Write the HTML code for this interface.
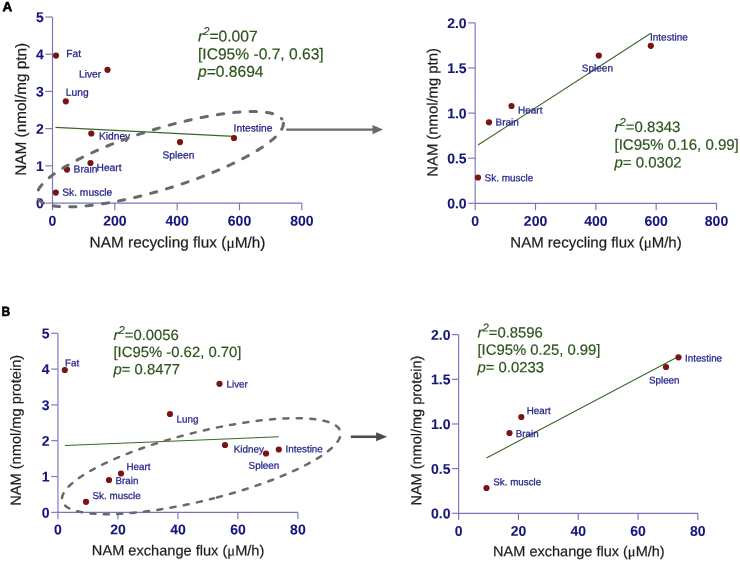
<!DOCTYPE html>
<html><head><meta charset="utf-8"><title>NAM flux correlations</title>
<style>
html,body{margin:0;padding:0;background:#fff;}
svg{display:block;will-change:transform;font-family:"Liberation Sans",sans-serif;}
.tk{font-size:14px;font-weight:bold;fill:#15157a;stroke:#15157a;stroke-width:.08px;}
.lb{fill:#1f1f85;stroke:#1f1f85;stroke-width:.25px;}
.st{fill:#2c541c;stroke:#2c541c;stroke-width:.2px;}
.tt{fill:#1c1c1c;stroke:#1c1c1c;stroke-width:.2px;}
.pl{font-size:13.5px;font-weight:bold;fill:#000;stroke:#000;stroke-width:.6px;}
.mu{font-family:"Liberation Serif",serif;}
</style></head>
<body>
<svg width="740" height="561" viewBox="0 0 740 561">
<rect width="740" height="561" fill="#fff"/>
<text transform="translate(2.5 11.3) rotate(0.03)" class="pl">A</text>
<text transform="translate(1.55 316) rotate(0.03) scale(0.89 1)" class="pl">B</text>
<path d="M52.5 17.0V203.05H301.8" fill="none" stroke="#7a76bc" stroke-width="1.15"/>
<path d="M52.5 203.05v7.2" stroke="#7a76bc" stroke-width="1.15"/>
<text transform="translate(52.5 225.6) rotate(0.03)" class="tk" text-anchor="middle">0</text>
<path d="M114.83 203.05v7.2" stroke="#7a76bc" stroke-width="1.15"/>
<text transform="translate(114.83 225.6) rotate(0.03)" class="tk" text-anchor="middle">200</text>
<path d="M177.15 203.05v7.2" stroke="#7a76bc" stroke-width="1.15"/>
<text transform="translate(177.15 225.6) rotate(0.03)" class="tk" text-anchor="middle">400</text>
<path d="M239.48 203.05v7.2" stroke="#7a76bc" stroke-width="1.15"/>
<text transform="translate(239.48 225.6) rotate(0.03)" class="tk" text-anchor="middle">600</text>
<path d="M301.8 203.05v7.2" stroke="#7a76bc" stroke-width="1.15"/>
<text transform="translate(301.8 225.6) rotate(0.03)" class="tk" text-anchor="middle">800</text>
<path d="M52.5 203.05h-7.2" stroke="#7a76bc" stroke-width="1.15"/>
<text transform="translate(43.7 208.1) rotate(0.03)" class="tk" text-anchor="end">0</text>
<path d="M52.5 165.84h-7.2" stroke="#7a76bc" stroke-width="1.15"/>
<text transform="translate(43.7 170.89) rotate(0.03)" class="tk" text-anchor="end">1</text>
<path d="M52.5 128.63h-7.2" stroke="#7a76bc" stroke-width="1.15"/>
<text transform="translate(43.7 133.68) rotate(0.03)" class="tk" text-anchor="end">2</text>
<path d="M52.5 91.42h-7.2" stroke="#7a76bc" stroke-width="1.15"/>
<text transform="translate(43.7 96.47) rotate(0.03)" class="tk" text-anchor="end">3</text>
<path d="M52.5 54.21h-7.2" stroke="#7a76bc" stroke-width="1.15"/>
<text transform="translate(43.7 59.26) rotate(0.03)" class="tk" text-anchor="end">4</text>
<path d="M52.5 17.0h-7.2" stroke="#7a76bc" stroke-width="1.15"/>
<text transform="translate(43.7 22.05) rotate(0.03)" class="tk" text-anchor="end">5</text>
<text transform="translate(26.1 109.3) rotate(-89.97)" class="tt" font-size="15.35" text-anchor="middle">NAM (nmol/mg ptn)</text>
<text transform="translate(177.5 247.6) rotate(0.03)" class="tt" text-anchor="middle" font-size="15.4">NAM recycling flux (<tspan class='mu'>μ</tspan>M/h)</text>
<path d="M55.5 127.4L234 136.4" stroke="#38672a" stroke-width="1.1" fill="none"/>
<circle cx="56" cy="55.6" r="3.1" fill="#7a1414"/>
<circle cx="107.5" cy="69.8" r="3.1" fill="#7a1414"/>
<circle cx="65.8" cy="101.3" r="3.1" fill="#7a1414"/>
<circle cx="91.3" cy="133.5" r="3.1" fill="#7a1414"/>
<circle cx="90.5" cy="163" r="3.1" fill="#7a1414"/>
<circle cx="67" cy="169.6" r="3.1" fill="#7a1414"/>
<circle cx="55.8" cy="192.6" r="3.1" fill="#7a1414"/>
<circle cx="234" cy="138" r="3.1" fill="#7a1414"/>
<circle cx="180" cy="142.1" r="3.1" fill="#7a1414"/>
<text transform="translate(66.3 56.9) rotate(0.03)" class="lb" font-size="10.25">Fat</text>
<text transform="translate(79 77.5) rotate(0.03)" class="lb" font-size="10.25">Liver</text>
<text transform="translate(65.8 95.8) rotate(0.03)" class="lb" font-size="10.25">Lung</text>
<text transform="translate(98.9 139.5) rotate(0.03)" class="lb" font-size="10.25">Kidney</text>
<text transform="translate(96.5 170.9) rotate(0.03)" class="lb" font-size="10.25">Heart</text>
<text transform="translate(73.6 172.6) rotate(0.03)" class="lb" font-size="10.25">Brain</text>
<text transform="translate(62.2 195.8) rotate(0.03)" class="lb" font-size="10.25">Sk. muscle</text>
<text transform="translate(233.6 131.6) rotate(0.03)" class="lb" font-size="10.25">Intestine</text>
<text transform="translate(162.5 158.6) rotate(0.03)" class="lb" font-size="10.25">Spleen</text>
<text transform="translate(198 41.5) rotate(0.03) scale(1.0 1)" class="st" font-size="15.6"><tspan font-style="italic">r</tspan><tspan dy="-6.4" font-size="11.3" font-style="italic">2</tspan><tspan dy="6.4">=0.007</tspan></text>
<text transform="translate(198 59.2) rotate(0.03) scale(1.0 1)" class="st" font-size="15.6">[IC95% -0.7, 0.63]</text>
<text transform="translate(198 76.8) rotate(0.03) scale(1.0 1)" class="st" font-size="15.6"><tspan font-style="italic">p</tspan>=0.8694</text>
<path d="M281.88 118.97 L282.20 119.42 L282.48 119.88 L282.73 120.36 L282.93 120.85 L283.10 121.34 L283.23 121.86 L283.33 122.38 L283.38 122.91 L283.40 123.46 L283.39 124.01 L283.33 124.58 L283.24 125.15 L283.11 125.74 L282.94 126.34 L282.73 126.95 L282.49 127.56 L282.21 128.19 L281.89 128.83 L281.54 129.47 L281.15 130.13 L280.72 130.79 L280.25 131.46 L279.75 132.14 L279.21 132.83 L278.64 133.53 L278.03 134.23 L277.38 134.94 L276.70 135.66 L275.99 136.39 L275.23 137.12 L274.45 137.86 L273.62 138.61 L272.77 139.36 L271.87 140.12 L270.95 140.89 L269.99 141.66 L269.00 142.43 L267.97 143.22 L266.91 144.00 L265.82 144.79 L264.70 145.59 L263.55 146.39 L262.36 147.19 L261.14 148.00 L259.89 148.81 L258.61 149.62 L257.31 150.43 L255.97 151.25 L254.60 152.07 L253.20 152.90 L251.78 153.72 L250.33 154.55 L248.85 155.38 L247.34 156.21 L245.81 157.04 L244.25 157.87 L242.66 158.70 L241.05 159.53 L239.42 160.36 L237.76 161.20 L236.08 162.03 L234.37 162.86 L232.64 163.68 L230.89 164.51 L229.12 165.34 L227.33 166.16 L225.52 166.98 L223.68 167.80 L221.83 168.62 L219.96 169.43 L218.07 170.24 L216.16 171.05 L214.24 171.85 L212.30 172.65 L210.34 173.45 L208.37 174.24 L206.38 175.03 L204.38 175.81 L202.37 176.59 L200.34 177.36 L198.30 178.13 L196.25 178.89 L194.19 179.64 L192.12 180.39 L190.04 181.13 L187.95 181.86 L185.85 182.59 L183.74 183.31 L181.63 184.03 L179.51 184.73 L177.38 185.43 L175.25 186.12 L173.11 186.80 L170.97 187.48 L168.83 188.14 L166.68 188.80 L164.53 189.45 L162.38 190.08 L160.23 190.71 L158.08 191.33 L155.93 191.94 L153.78 192.54 L151.64 193.13 L149.49 193.71 L147.35 194.28 L145.22 194.83 L143.09 195.38 L140.96 195.92 L138.84 196.44 L136.72 196.95 L134.62 197.46 L132.52 197.95 L130.43 198.42 L128.34 198.89 L126.27 199.34 L124.21 199.79 L122.16 200.22 L120.12 200.63 L118.09 201.04 L116.08 201.43 L114.08 201.81 L112.09 202.17 L110.12 202.53 L108.16 202.87 L106.22 203.19 L104.30 203.51 L102.39 203.81 L100.50 204.09 L98.63 204.36 L96.77 204.62 L94.94 204.87 L93.13 205.10 L91.33 205.31 L89.56 205.52 L87.81 205.70 L86.08 205.88 L84.37 206.04 L82.69 206.18 L81.03 206.32 L79.40 206.43 L77.78 206.54 L76.20 206.62 L74.64 206.70 L73.10 206.76 L71.60 206.80 L70.12 206.83 L68.66 206.85 L67.24 206.85 L65.84 206.84 L64.47 206.81 L63.13 206.77 L61.82 206.71 L60.54 206.64 L59.30 206.56 L58.08 206.46 L56.89 206.34 L55.73 206.21 L54.61 206.07 L53.52 205.91 L52.46 205.74 L51.43 205.55 L50.44 205.35 L49.48 205.14 L48.55 204.91 L47.66 204.67 L46.80 204.42 L45.98 204.15 L45.19 203.86 L44.44 203.57 L43.72 203.26 L43.04 202.93 L42.39 202.60 L41.78 202.25 L41.20 201.88 L40.66 201.51 L40.16 201.12 L39.69 200.72 L39.27 200.30 L38.87 199.87 L38.52 199.43 L38.20 198.98 L37.92 198.52 L37.67 198.04 L37.47 197.55 L37.30 197.06 L37.17 196.54 L37.07 196.02 L37.02 195.49 L37.00 194.94 L37.01 194.39 L37.07 193.82 L37.16 193.25 L37.29 192.66 L37.46 192.06 L37.67 191.45 L37.91 190.84 L38.19 190.21 L38.51 189.57 L38.86 188.93 L39.25 188.27 L39.68 187.61 L40.15 186.94 L40.65 186.26 L41.19 185.57 L41.76 184.87 L42.37 184.17 L43.02 183.46 L43.70 182.74 L44.41 182.01 L45.17 181.28 L45.95 180.54 L46.78 179.79 L47.63 179.04 L48.53 178.28 L49.45 177.51 L50.41 176.74 L51.40 175.97 L52.43 175.18 L53.49 174.40 L54.58 173.61 L55.70 172.81 L56.85 172.01 L58.04 171.21 L59.26 170.40 L60.51 169.59 L61.79 168.78 L63.09 167.97 L64.43 167.15 L65.80 166.33 L67.20 165.50 L68.62 164.68 L70.07 163.85 L71.55 163.02 L73.06 162.19 L74.59 161.36 L76.15 160.53 L77.74 159.70 L79.35 158.87 L80.98 158.04 L82.64 157.20 L84.32 156.37 L86.03 155.54 L87.76 154.72 L89.51 153.89 L91.28 153.06 L93.07 152.24 L94.88 151.42 L96.72 150.60 L98.57 149.78 L100.44 148.97 L102.33 148.16 L104.24 147.35 L106.16 146.55 L108.10 145.75 L110.06 144.95 L112.03 144.16 L114.02 143.37 L116.02 142.59 L118.03 141.81 L120.06 141.04 L122.10 140.27 L124.15 139.51 L126.21 138.76 L128.28 138.01 L130.36 137.27 L132.45 136.54 L134.55 135.81 L136.66 135.09 L138.77 134.37 L140.89 133.67 L143.02 132.97 L145.15 132.28 L147.29 131.60 L149.43 130.92 L151.57 130.26 L153.72 129.60 L155.87 128.95 L158.02 128.32 L160.17 127.69 L162.32 127.07 L164.47 126.46 L166.62 125.86 L168.76 125.27 L170.91 124.69 L173.05 124.12 L175.18 123.57 L177.31 123.02 L179.44 122.48 L181.56 121.96 L183.68 121.45 L185.78 120.94 L187.88 120.45 L189.97 119.98 L192.06 119.51 L194.13 119.06 L196.19 118.61 L198.24 118.18 L200.28 117.77 L202.31 117.36 L204.32 116.97 L206.32 116.59 L208.31 116.23 L210.28 115.87 L212.24 115.53 L214.18 115.21 L216.10 114.89 L218.01 114.59 L219.90 114.31 L221.77 114.04 L223.63 113.78 L225.46 113.53 L227.27 113.30 L229.07 113.09 L230.84 112.88 L232.59 112.70 L234.32 112.52 L236.03 112.36 L237.71 112.22 L239.37 112.08 L241.00 111.97 L242.62 111.86 L244.20 111.78 L245.76 111.70 L247.30 111.64 L248.80 111.60 L250.28 111.57 L251.74 111.55 L253.16 111.55 L254.56 111.56 L255.93 111.59 L257.27 111.63 L258.58 111.69 L259.86 111.76 L261.10 111.84 L262.32 111.94 L263.51 112.06 L264.67 112.19 L265.79 112.33 L266.88 112.49 L267.94 112.66 L268.97 112.85 L269.96 113.05 L270.92 113.26 L271.85 113.49 L272.74 113.73 L273.60 113.98 L274.42 114.25 L275.21 114.54 L275.96 114.83 L276.68 115.14 L277.36 115.47 L278.01 115.80 L278.62 116.15 L279.20 116.52 L279.74 116.89 L280.24 117.28 L280.71 117.68 L281.13 118.10 L281.53 118.53 L281.88 118.97" fill="none" stroke="#6a6a6a" stroke-width="3" stroke-linecap="round" stroke-linejoin="round" stroke-dasharray="6.3 10.15" stroke-dashoffset="11.9"/>
<path d="M286.2 129.55H374.0" stroke="#6a6a6a" stroke-width="2.2" fill="none"/>
<path d="M383 129.55l-10.5 -4.6v9.2z" fill="#6a6a6a"/>
<path d="M475.2 22.9V203.3H716.5" fill="none" stroke="#7a76bc" stroke-width="1.15"/>
<path d="M475.2 203.3v7.0" stroke="#7a76bc" stroke-width="1.15"/>
<text transform="translate(475.2 225.65) rotate(0.03)" class="tk" text-anchor="middle">0</text>
<path d="M535.52 203.3v7.0" stroke="#7a76bc" stroke-width="1.15"/>
<text transform="translate(535.52 225.65) rotate(0.03)" class="tk" text-anchor="middle">200</text>
<path d="M595.85 203.3v7.0" stroke="#7a76bc" stroke-width="1.15"/>
<text transform="translate(595.85 225.65) rotate(0.03)" class="tk" text-anchor="middle">400</text>
<path d="M656.17 203.3v7.0" stroke="#7a76bc" stroke-width="1.15"/>
<text transform="translate(656.17 225.65) rotate(0.03)" class="tk" text-anchor="middle">600</text>
<path d="M716.5 203.3v7.0" stroke="#7a76bc" stroke-width="1.15"/>
<text transform="translate(716.5 225.65) rotate(0.03)" class="tk" text-anchor="middle">800</text>
<path d="M475.2 203.3h-7.0" stroke="#7a76bc" stroke-width="1.15"/>
<text transform="translate(466.6 208.35) rotate(0.03)" class="tk" text-anchor="end">0.0</text>
<path d="M475.2 158.2h-7.0" stroke="#7a76bc" stroke-width="1.15"/>
<text transform="translate(466.6 163.25) rotate(0.03)" class="tk" text-anchor="end">0.5</text>
<path d="M475.2 113.1h-7.0" stroke="#7a76bc" stroke-width="1.15"/>
<text transform="translate(466.6 118.15) rotate(0.03)" class="tk" text-anchor="end">1.0</text>
<path d="M475.2 68.0h-7.0" stroke="#7a76bc" stroke-width="1.15"/>
<text transform="translate(466.6 73.05) rotate(0.03)" class="tk" text-anchor="end">1.5</text>
<path d="M475.2 22.9h-7.0" stroke="#7a76bc" stroke-width="1.15"/>
<text transform="translate(466.6 27.95) rotate(0.03)" class="tk" text-anchor="end">2.0</text>
<text transform="translate(437.5 112.4) rotate(-89.97)" class="tt" font-size="14.85" text-anchor="middle">NAM (nmol/mg ptn)</text>
<text transform="translate(596 247.5) rotate(0.03)" class="tt" text-anchor="middle" font-size="15">NAM recycling flux (<tspan class='mu'>μ</tspan>M/h)</text>
<path d="M478 145L650.8 33.2" stroke="#38672a" stroke-width="1.1" fill="none"/>
<circle cx="650.8" cy="45.8" r="3.1" fill="#7a1414"/>
<circle cx="598.8" cy="55.6" r="3.1" fill="#7a1414"/>
<circle cx="511.5" cy="106" r="3.1" fill="#7a1414"/>
<circle cx="489" cy="122.3" r="3.1" fill="#7a1414"/>
<circle cx="478" cy="177.5" r="3.1" fill="#7a1414"/>
<text transform="translate(650 40.6) rotate(0.03)" class="lb" font-size="10">Intestine</text>
<text transform="translate(581.8 71.5) rotate(0.03)" class="lb" font-size="10">Spleen</text>
<text transform="translate(518 113.5) rotate(0.03)" class="lb" font-size="10">Heart</text>
<text transform="translate(495.5 125.5) rotate(0.03)" class="lb" font-size="10">Brain</text>
<text transform="translate(484.5 181.3) rotate(0.03)" class="lb" font-size="10">Sk. muscle</text>
<text transform="translate(614.5 131.9) rotate(0.03) scale(1.0 1)" class="st" font-size="15"><tspan font-style="italic">r</tspan><tspan dy="-5.9" font-size="11.3" font-style="italic">2</tspan><tspan dy="5.9">=0.8343</tspan></text>
<text transform="translate(614.5 149.8) rotate(0.03) scale(1.0 1)" class="st" font-size="15">[IC95% 0.16, 0.99]</text>
<text transform="translate(614.5 167.4) rotate(0.03) scale(1.0 1)" class="st" font-size="15"><tspan font-style="italic">p</tspan>= 0.0302</text>
<path d="M57.95 333.25V512.35H297.9" fill="none" stroke="#7a76bc" stroke-width="1.15"/>
<path d="M57.95 512.35v6.8" stroke="#7a76bc" stroke-width="1.15"/>
<text transform="translate(57.95 534.25) rotate(0.03)" class="tk" text-anchor="middle">0</text>
<path d="M117.94 512.35v6.8" stroke="#7a76bc" stroke-width="1.15"/>
<text transform="translate(117.94 534.25) rotate(0.03)" class="tk" text-anchor="middle">20</text>
<path d="M177.93 512.35v6.8" stroke="#7a76bc" stroke-width="1.15"/>
<text transform="translate(177.93 534.25) rotate(0.03)" class="tk" text-anchor="middle">40</text>
<path d="M237.91 512.35v6.8" stroke="#7a76bc" stroke-width="1.15"/>
<text transform="translate(237.91 534.25) rotate(0.03)" class="tk" text-anchor="middle">60</text>
<path d="M297.9 512.35v6.8" stroke="#7a76bc" stroke-width="1.15"/>
<text transform="translate(297.9 534.25) rotate(0.03)" class="tk" text-anchor="middle">80</text>
<path d="M57.95 512.35h-6.8" stroke="#7a76bc" stroke-width="1.15"/>
<text transform="translate(49.45 517.4) rotate(0.03)" class="tk" text-anchor="end">0</text>
<path d="M57.95 476.53h-6.8" stroke="#7a76bc" stroke-width="1.15"/>
<text transform="translate(49.45 481.58) rotate(0.03)" class="tk" text-anchor="end">1</text>
<path d="M57.95 440.71h-6.8" stroke="#7a76bc" stroke-width="1.15"/>
<text transform="translate(49.45 445.76) rotate(0.03)" class="tk" text-anchor="end">2</text>
<path d="M57.95 404.89h-6.8" stroke="#7a76bc" stroke-width="1.15"/>
<text transform="translate(49.45 409.94) rotate(0.03)" class="tk" text-anchor="end">3</text>
<path d="M57.95 369.07h-6.8" stroke="#7a76bc" stroke-width="1.15"/>
<text transform="translate(49.45 374.12) rotate(0.03)" class="tk" text-anchor="end">4</text>
<path d="M57.95 333.25h-6.8" stroke="#7a76bc" stroke-width="1.15"/>
<text transform="translate(49.45 338.3) rotate(0.03)" class="tk" text-anchor="end">5</text>
<text transform="translate(20.8 430.3) rotate(-89.97)" class="tt" font-size="14.6" text-anchor="middle">NAM (nmol/mg protein)</text>
<text transform="translate(178.1 555.4) rotate(0.03)" class="tt" text-anchor="middle" font-size="14.6">NAM exchange flux (<tspan class='mu'>μ</tspan>M/h)</text>
<path d="M65 445.5L278.8 436.8" stroke="#38672a" stroke-width="1.1" fill="none"/>
<circle cx="64.8" cy="370" r="3.1" fill="#7a1414"/>
<circle cx="219.5" cy="383.8" r="3.1" fill="#7a1414"/>
<circle cx="170" cy="414" r="3.1" fill="#7a1414"/>
<circle cx="225" cy="445" r="3.1" fill="#7a1414"/>
<circle cx="266" cy="453.5" r="3.1" fill="#7a1414"/>
<circle cx="278.8" cy="449.5" r="3.1" fill="#7a1414"/>
<circle cx="121" cy="473.5" r="3.1" fill="#7a1414"/>
<circle cx="109" cy="480" r="3.1" fill="#7a1414"/>
<circle cx="86" cy="501.8" r="3.1" fill="#7a1414"/>
<text transform="translate(65 366.2) rotate(0.03)" class="lb" font-size="9.85">Fat</text>
<text transform="translate(226.5 387.5) rotate(0.03)" class="lb" font-size="9.85">Liver</text>
<text transform="translate(176.5 422.5) rotate(0.03)" class="lb" font-size="9.85">Lung</text>
<text transform="translate(233.7 452.5) rotate(0.03)" class="lb" font-size="9.85">Kidney</text>
<text transform="translate(248.6 468.8) rotate(0.03)" class="lb" font-size="9.85">Spleen</text>
<text transform="translate(285.6 452.3) rotate(0.03)" class="lb" font-size="9.85">Intestine</text>
<text transform="translate(126.5 470) rotate(0.03)" class="lb" font-size="9.85">Heart</text>
<text transform="translate(115.5 484) rotate(0.03)" class="lb" font-size="9.85">Brain</text>
<text transform="translate(92.5 498.9) rotate(0.03)" class="lb" font-size="9.85">Sk. muscle</text>
<text transform="translate(113.5 339.9) rotate(0.03) scale(1.0 1)" class="st" font-size="14.85"><tspan font-style="italic">r</tspan><tspan dy="-5.9" font-size="11.3" font-style="italic">2</tspan><tspan dy="5.9">=0.0056</tspan></text>
<text transform="translate(113.5 357.0) rotate(0.03) scale(1.0 1)" class="st" font-size="14.85">[IC95% -0.62, 0.70]</text>
<text transform="translate(113.5 374.3) rotate(0.03) scale(1.0 1)" class="st" font-size="14.85"><tspan font-style="italic">p</tspan>= 0.8477</text>
<path d="M213.88 498.29 L211.46 498.91 L209.03 499.52 L206.60 500.12 L204.17 500.70 L201.74 501.28 L199.31 501.85 L196.88 502.40 L194.45 502.95 L192.02 503.48 L189.60 504.00 L187.18 504.51 L184.76 505.01 L182.35 505.50 L179.95 505.97 L177.55 506.43 L175.16 506.89 L172.77 507.32 L170.40 507.75 L168.03 508.16 L165.68 508.56 L163.33 508.95 L161.00 509.32 L158.68 509.68 L156.37 510.03 L154.07 510.37 L151.79 510.69 L149.53 510.99 L147.28 511.29 L145.05 511.57 L142.83 511.83 L140.64 512.09 L138.46 512.32 L136.30 512.55 L134.16 512.76 L132.04 512.95 L129.94 513.14 L127.86 513.30 L125.81 513.46 L123.78 513.60 L121.77 513.72 L119.78 513.83 L117.83 513.92 L115.89 514.01 L113.99 514.07 L112.10 514.12 L110.25 514.16 L108.43 514.18 L106.63 514.19 L104.86 514.18 L103.12 514.16 L101.41 514.13 L99.73 514.07 L98.08 514.01 L96.47 513.93 L94.88 513.83 L93.33 513.73 L91.81 513.60 L90.32 513.46 L88.87 513.31 L87.45 513.15 L86.07 512.97 L84.72 512.77 L83.41 512.56 L82.13 512.34 L80.89 512.10 L79.69 511.85 L78.52 511.58 L77.39 511.30 L76.30 511.01 L75.25 510.70 L74.23 510.38 L73.26 510.05 L72.32 509.70 L71.42 509.34 L70.56 508.97 L69.74 508.58 L68.96 508.18 L68.23 507.77 L67.53 507.35 L66.87 506.91 L66.26 506.46 L65.68 506.00 L65.15 505.52 L64.65 505.04 L64.20 504.54 L63.80 504.03 L63.43 503.51 L63.10 502.98 L62.82 502.43 L62.58 501.88 L62.38 501.31 L62.23 500.74 L62.11 500.15 L62.04 499.55 L62.01 498.95 L62.02 498.33 L62.08 497.70 L62.18 497.07 L62.32 496.42 L62.50 495.76 L62.73 495.10 L63.00 494.43 L63.31 493.75 L63.66 493.06 L64.05 492.36 L64.49 491.65 L64.96 490.94 L65.48 490.22 L66.04 489.49 L66.64 488.75 L67.29 488.01 L67.97 487.26 L68.69 486.50 L69.46 485.74 L70.26 484.97 L71.10 484.20 L71.99 483.42 L72.91 482.64 L73.87 481.85 L74.88 481.05 L75.91 480.25 L76.99 479.45 L78.11 478.64 L79.26 477.83 L80.45 477.02 L81.68 476.20 L82.94 475.38 L84.24 474.56 L85.58 473.73 L86.95 472.90 L88.35 472.07 L89.79 471.24 L91.27 470.41 L92.78 469.57 L94.32 468.74 L95.89 467.90 L97.49 467.06 L99.13 466.22 L100.80 465.39 L102.50 464.55 L104.22 463.71 L105.98 462.88 L107.77 462.04 L109.59 461.21 L111.43 460.38 L113.30 459.54 L115.20 458.72 L117.12 457.89 L119.07 457.07 L121.05 456.25 L123.05 455.43 L125.07 454.61 L127.11 453.80 L129.18 453.00 L131.27 452.19 L133.39 451.39 L135.52 450.60 L137.67 449.81 L139.84 449.02 L142.03 448.24 L144.24 447.47 L146.47 446.70 L148.71 445.94 L150.97 445.18 L153.25 444.43 L155.54 443.69 L157.84 442.95 L160.15 442.23 L162.48 441.50 L164.82 440.79 L167.18 440.08 L169.54 439.38 L171.91 438.69 L174.29 438.01 L176.68 437.34 L179.08 436.67 L181.48 436.02 L183.89 435.37 L186.30 434.73 L188.72 434.11 L191.14 433.49 L193.57 432.88 L196.00 432.28 L198.43 431.70 L200.86 431.12 L203.29 430.55 L205.72 430.00 L208.15 429.45 L210.58 428.92 L213.00 428.40 L215.42 427.89 L217.84 427.39 L220.25 426.90 L222.65 426.43 L225.05 425.97 L227.44 425.51 L229.83 425.08 L232.20 424.65 L234.57 424.24 L236.92 423.84 L239.27 423.45 L241.60 423.08 L243.92 422.72 L246.23 422.37 L248.53 422.03 L250.81 421.71 L253.07 421.41 L255.32 421.11 L257.55 420.83 L259.77 420.57 L261.96 420.31 L264.14 420.08 L266.30 419.85 L268.44 419.64 L270.56 419.45 L272.66 419.26 L274.74 419.10 L276.79 418.94 L278.82 418.80 L280.83 418.68 L282.82 418.57 L284.77 418.48 L286.71 418.39 L288.61 418.33 L290.50 418.28 L292.35 418.24 L294.17 418.22 L295.97 418.21 L297.74 418.22 L299.48 418.24 L301.19 418.27 L302.87 418.33 L304.52 418.39 L306.13 418.47 L307.72 418.57 L309.27 418.67 L310.79 418.80 L312.28 418.94 L313.73 419.09 L315.15 419.25 L316.53 419.43 L317.88 419.63 L319.19 419.84 L320.47 420.06 L321.71 420.30 L322.91 420.55 L324.08 420.82 L325.21 421.10 L326.30 421.39 L327.35 421.70 L328.37 422.02 L329.34 422.35 L330.28 422.70 L331.18 423.06 L332.04 423.43 L332.86 423.82 L333.64 424.22 L334.37 424.63 L335.07 425.05 L335.73 425.49 L336.34 425.94 L336.92 426.40 L337.45 426.88 L337.95 427.36 L338.40 427.86 L338.80 428.37 L339.17 428.89 L339.50 429.42 L339.78 429.97 L340.02 430.52 L340.22 431.09 L340.37 431.66 L340.49 432.25 L340.56 432.85 L340.59 433.45 L340.58 434.07 L340.52 434.70 L340.42 435.33 L340.28 435.98 L340.10 436.64 L339.87 437.30 L339.60 437.97 L339.29 438.65 L338.94 439.34 L338.55 440.04 L338.11 440.75 L337.64 441.46 L337.12 442.18 L336.56 442.91 L335.96 443.65 L335.31 444.39 L334.63 445.14 L333.91 445.90 L333.14 446.66 L332.34 447.43 L331.50 448.20 L330.61 448.98 L329.69 449.76 L328.73 450.55 L327.72 451.35 L326.69 452.15 L325.61 452.95 L324.49 453.76 L323.34 454.57 L322.15 455.38 L320.92 456.20 L319.66 457.02 L318.36 457.84 L317.02 458.67 L315.65 459.50 L314.25 460.33 L312.81 461.16 L311.33 461.99 L309.82 462.83 L308.28 463.66 L306.71 464.50 L305.11 465.34 L303.47 466.18 L301.80 467.01 L300.10 467.85 L298.38 468.69 L296.62 469.52 L294.83 470.36 L293.01 471.19 L291.17 472.02 L289.30 472.86 L287.40 473.68 L285.48 474.51 L283.53 475.33 L281.55 476.15 L279.55 476.97 L277.53 477.79 L275.49 478.60 L273.42 479.40 L271.33 480.21 L269.21 481.01 L267.08 481.80 L264.93 482.59 L262.76 483.38 L260.57 484.16 L258.36 484.93 L256.13 485.70 L253.89 486.46 L251.63 487.22 L249.35 487.97 L247.06 488.71 L244.76 489.45 L242.45 490.17 L240.12 490.90 L237.78 491.61 L235.42 492.32 L233.06 493.02 L230.69 493.71 L228.31 494.39 L225.92 495.06 L223.52 495.73 L221.12 496.38 L218.71 497.03 L216.30 497.67 L213.88 498.29" fill="none" stroke="#6a6a6a" stroke-width="2.5" stroke-linecap="round" stroke-linejoin="round" stroke-dasharray="5.1 8.33" stroke-dashoffset="1.0"/>
<path d="M350.8 436.75H377.6" stroke="#4b4b4b" stroke-width="2.6" fill="none"/>
<path d="M387.1 436.75l-11 -4.55v9.1z" fill="#4b4b4b"/>
<path d="M458.65 334.65V513.3H697.85" fill="none" stroke="#7a76bc" stroke-width="1.15"/>
<path d="M458.65 513.3v6.8" stroke="#7a76bc" stroke-width="1.15"/>
<text transform="translate(458.65 535.65) rotate(0.03)" class="tk" text-anchor="middle">0</text>
<path d="M518.45 513.3v6.8" stroke="#7a76bc" stroke-width="1.15"/>
<text transform="translate(518.45 535.65) rotate(0.03)" class="tk" text-anchor="middle">20</text>
<path d="M578.25 513.3v6.8" stroke="#7a76bc" stroke-width="1.15"/>
<text transform="translate(578.25 535.65) rotate(0.03)" class="tk" text-anchor="middle">40</text>
<path d="M638.05 513.3v6.8" stroke="#7a76bc" stroke-width="1.15"/>
<text transform="translate(638.05 535.65) rotate(0.03)" class="tk" text-anchor="middle">60</text>
<path d="M697.85 513.3v6.8" stroke="#7a76bc" stroke-width="1.15"/>
<text transform="translate(697.85 535.65) rotate(0.03)" class="tk" text-anchor="middle">80</text>
<path d="M458.65 513.3h-6.8" stroke="#7a76bc" stroke-width="1.15"/>
<text transform="translate(450.55 518.35) rotate(0.03)" class="tk" text-anchor="end">0.0</text>
<path d="M458.65 468.64h-6.8" stroke="#7a76bc" stroke-width="1.15"/>
<text transform="translate(450.55 473.69) rotate(0.03)" class="tk" text-anchor="end">0.5</text>
<path d="M458.65 423.97h-6.8" stroke="#7a76bc" stroke-width="1.15"/>
<text transform="translate(450.55 429.02) rotate(0.03)" class="tk" text-anchor="end">1.0</text>
<path d="M458.65 379.31h-6.8" stroke="#7a76bc" stroke-width="1.15"/>
<text transform="translate(450.55 384.36) rotate(0.03)" class="tk" text-anchor="end">1.5</text>
<path d="M458.65 334.65h-6.8" stroke="#7a76bc" stroke-width="1.15"/>
<text transform="translate(450.55 339.7) rotate(0.03)" class="tk" text-anchor="end">2.0</text>
<text transform="translate(421.2 430.6) rotate(-89.97)" class="tt" font-size="14.5" text-anchor="middle">NAM (nmol/mg protein)</text>
<text transform="translate(578.9 556.2) rotate(0.03)" class="tt" text-anchor="middle" font-size="14.52">NAM exchange flux (<tspan class='mu'>μ</tspan>M/h)</text>
<path d="M486.5 458L678.5 356.5" stroke="#38672a" stroke-width="1.1" fill="none"/>
<circle cx="678.5" cy="357.3" r="3.1" fill="#7a1414"/>
<circle cx="666" cy="367" r="3.1" fill="#7a1414"/>
<circle cx="521.3" cy="417" r="3.1" fill="#7a1414"/>
<circle cx="509.5" cy="433" r="3.1" fill="#7a1414"/>
<circle cx="486.5" cy="488" r="3.1" fill="#7a1414"/>
<text transform="translate(685 361.5) rotate(0.03)" class="lb" font-size="9.8">Intestine</text>
<text transform="translate(649 383.5) rotate(0.03)" class="lb" font-size="9.8">Spleen</text>
<text transform="translate(526.8 414) rotate(0.03)" class="lb" font-size="9.8">Heart</text>
<text transform="translate(515.8 437) rotate(0.03)" class="lb" font-size="9.8">Brain</text>
<text transform="translate(493.3 485.3) rotate(0.03)" class="lb" font-size="9.8">Sk. muscle</text>
<text transform="translate(477.5 337.4) rotate(0.03) scale(1.0 1)" class="st" font-size="14.85"><tspan font-style="italic">r</tspan><tspan dy="-5.9" font-size="11.3" font-style="italic">2</tspan><tspan dy="5.9">=0.8596</tspan></text>
<text transform="translate(477.5 354.8) rotate(0.03) scale(1.0 1)" class="st" font-size="14.85">[IC95% 0.25, 0.99]</text>
<text transform="translate(477.5 372.2) rotate(0.03) scale(1.0 1)" class="st" font-size="14.85"><tspan font-style="italic">p</tspan>= 0.0233</text>
</svg>
</body></html>
